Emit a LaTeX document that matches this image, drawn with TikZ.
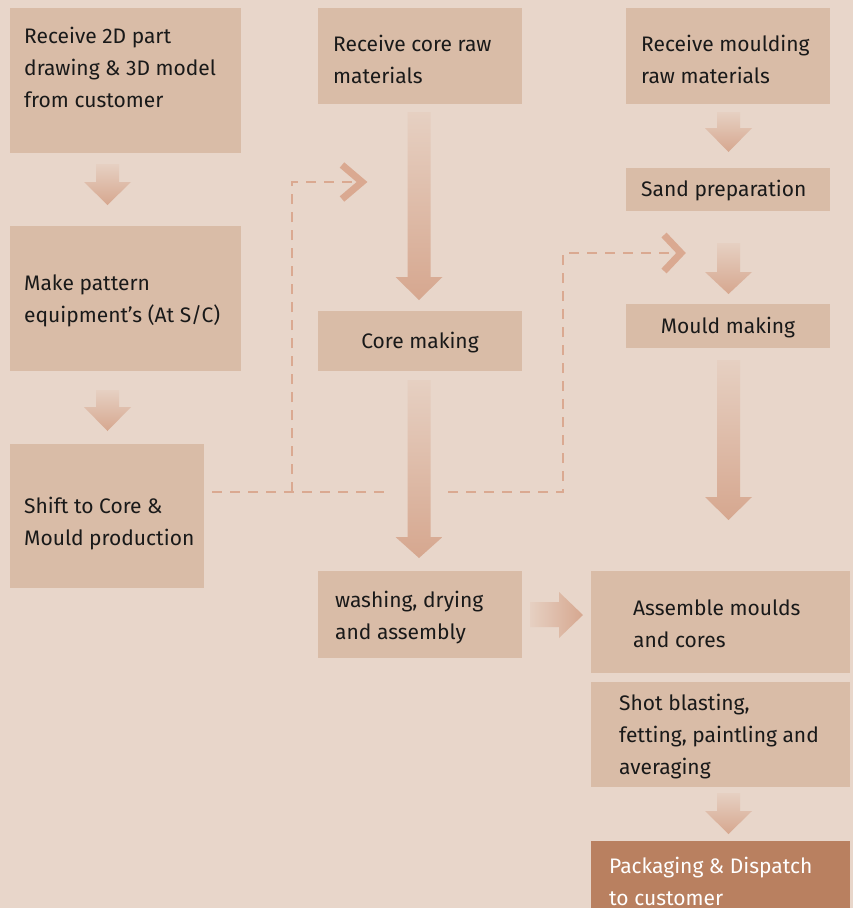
\documentclass[tikz,border=0pt]{standalone}
\usepackage{fontspec}
\setmainfont{Fira Sans}
\definecolor{bgc}{HTML}{E8D6CA}
\definecolor{boxc}{HTML}{D9BCA7}
\definecolor{darkc}{HTML}{B98060}
\definecolor{dashc}{HTML}{DAA991}
\definecolor{arrtop}{HTML}{E6D0C2}
\definecolor{arrbot}{HTML}{D6A78F}
\newcommand{\varr}[4]{% xc, ytop, yhead, ytip
  \shade[top color=arrtop, bottom color=arrbot, shading angle=0]
   ({#1-11.5},#2) -- ({#1+11.5},#2) -- ({#1+11.5},#3) -- ({#1+23.5},#3) -- (#1,#4) -- ({#1-23.5},#3) -- ({#1-11.5},#3) -- cycle;}
\newcommand{\varrlong}[4]{% xc, ytop, yhead, ytip
  \shade[top color=arrtop, middle color=arrbot, bottom color=arrbot]
   ({#1-11.5},#2) -- ({#1+11.5},#2) -- ({#1+11.5},#3) -- ({#1+23.5},#3) -- (#1,#4) -- ({#1-23.5},#3) -- ({#1-11.5},#3) -- cycle;}
\begin{document}
\begin{tikzpicture}[x=1pt,y=-1pt,
  box/.style={fill=boxc, draw=none, anchor=north west, inner sep=0pt},
  txt/.style={anchor=west, align=left, inner sep=0pt, font=\fontsize{21}{32}\selectfont, text=black!90},
  dashline/.style={draw=dashc, line width=2.5pt, dash pattern=on 10pt off 8pt},
  chev/.style={draw=dashc, line width=7pt, line join=miter}]
\useasboundingbox (0,0) rectangle (853,908);
\fill[bgc] (0,0) rectangle (853,908);
% boxes
\node[box, minimum width=231pt, minimum height=145pt] (b1) at (10,8) {};
\node[box, minimum width=231pt, minimum height=145pt] (b2) at (10,226) {};
\node[box, minimum width=194pt, minimum height=144pt] (b3) at (10,444) {};
\node[box, minimum width=204pt, minimum height=96pt] (b4) at (318,8) {};
\node[box, minimum width=204pt, minimum height=60pt] (b5) at (318,311) {};
\node[box, minimum width=204pt, minimum height=87pt] (b6) at (318,571) {};
\node[box, minimum width=204pt, minimum height=96pt] (b7) at (626,8) {};
\node[box, minimum width=204pt, minimum height=43pt] (b8) at (626,168) {};
\node[box, minimum width=204pt, minimum height=44pt] (b9) at (626,304) {};
\node[box, minimum width=259pt, minimum height=102pt] (b10) at (591,571) {};
\node[box, minimum width=259pt, minimum height=105pt] (b11) at (591,682) {};
\node[box, fill=darkc, minimum width=259pt, minimum height=70pt] (b12) at (591,841) {};
% texts
\node[txt] (t1) at (24,67) {Receive 2D part\\drawing \& 3D model\\from customer};
\node[txt] (t2) at (24,301) {Make pattern\\equipment's (At S/C)};
\node[txt] (t3) at (24,524) {Shift to Core \&\\Mould production};
\node[txt] (t4) at (333,59) {Receive core raw\\materials};
\node[txt, anchor=center] (t5) at (420,343) {Core making};
\node[txt] (t6) at (335,618) {washing, drying\\and assembly};
\node[txt] (t7) at (641,59) {Receive moulding\\raw materials};
\node[txt] (t8) at (641,191) {Sand preparation};
\node[txt, anchor=center] (t9) at (728,328) {Mould making};
\node[txt] (t10) at (633,624) {Assemble moulds\\and cores};
\node[txt] (t11) at (619,737) {Shot blasting,\\fetting, paintling and\\averaging};
\node[txt, text=white] (t12) at (609,881) {Packaging \& Dispatch\\to customer};
% block arrows
\varr{107.5}{164}{182}{205}
\varr{107.5}{390}{407}{431}
\varrlong{419}{112}{277}{300}
\varrlong{419}{380}{537}{558}
\varr{728.5}{112}{128}{152}
\varr{728.5}{243}{272}{294}
\varrlong{728.5}{360}{497}{520}
\varr{728.5}{793}{811}{834}
\shade[left color=arrtop, right color=arrbot]
  (530,602) -- (559,602) -- (559,592) -- (583,615) -- (559,638) -- (559,627) -- (530,627) -- cycle;
% dashed connectors
\coordinate (d0) at ([xshift=8pt]b3.east |- 0,492);
\coordinate (d1) at (292,492);
\coordinate (d2) at (292,182);
\coordinate (d3) at (352,182);
\coordinate (d4) at (385,492);
\coordinate (d5) at (448,492);
\coordinate (d6) at (563,492);
\coordinate (d7) at (563,253);
\coordinate (d8) at (672,253);
\draw[dashline] (d0) -- (d4);
\draw[dashline] (d1) -- (d2) -- (d3);
\draw[dashline] (d5) -- (d6) -- (d7) -- (d8);
\draw[chev] (342,165) -- (362,182) -- (342,199);
\draw[chev] (664,235) -- (681,253) -- (664,271);
\end{tikzpicture}
\end{document}
